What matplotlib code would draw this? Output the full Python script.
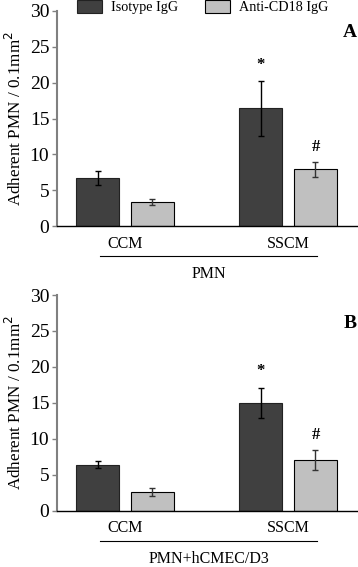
import matplotlib
matplotlib.use("Agg")
import matplotlib.pyplot as plt
import matplotlib.transforms as mtransforms
import numpy as np

plt.rcParams['font.family'] = ['Liberation Serif', 'DejaVu Serif']

categories = ["CCM", "SSCM"]
series_names = ["Isotype IgG", "Anti-CD18 IgG"]
# Panel A (PMN)
a_iso = [6.7, 16.4]
a_iso_err = [1.0, 3.8]
a_anti = [3.3, 7.9]
a_anti_err = [0.4, 1.1]
# Panel B (PMN+hCMEC/D3)
b_iso = [6.4, 15.0]
b_iso_err = [0.45, 2.1]
b_anti = [2.6, 7.1]
b_anti_err = [0.5, 1.4]
group_labels = ["PMN", "PMN+hCMEC/D3"]
panel_letters = ["A", "B"]
yticks = [0, 5, 10, 15, 20, 25, 30]

dark = "#404040"
light = "#c0c0c0"

fig = plt.figure(figsize=(3.58, 5.67), dpi=100)
axA = fig.add_axes([0.159, 0.6014, 0.84, 0.3792])
axB = fig.add_axes([0.159, 0.0993, 0.84, 0.3804])

x = np.arange(len(categories))
w = 0.264
off = 0.167

panels = [(axA, a_iso, a_iso_err, a_anti, a_anti_err, 0.898),
          (axB, b_iso, b_iso_err, b_anti, b_anti_err, 0.870)]

handles = None
for i, (ax, iso, iso_e, anti, anti_e, ly) in enumerate(panels):
    b1 = ax.bar(x - off, iso, w, color=dark, edgecolor="#222222", linewidth=0.8,
                yerr=iso_e, error_kw=dict(ecolor="black", elinewidth=1, capsize=2.5, capthick=1),
                label=series_names[0])
    b2 = ax.bar(x + off, anti, w, color=light, edgecolor="black", linewidth=0.8,
                yerr=anti_e, error_kw=dict(ecolor="#333333", elinewidth=1, capsize=2.5, capthick=1),
                label=series_names[1])
    if i == 0:
        handles = [b1, b2]
    ax.set_ylim(0, 30)
    ax.set_xlim(-0.4156, 1.425)
    ax.set_yticks(yticks)
    ax.set_xticks(x)
    ax.set_xticklabels(categories, fontsize=11.5)
    ax.tick_params(axis='x', length=0, pad=7)
    ax.tick_params(axis='y', length=3.5, width=1, color="#808080", labelsize=14, pad=2)
    for s in ["top", "right"]:
        ax.spines[s].set_visible(False)
    ax.spines["left"].set_color("#808080")
    ax.spines["left"].set_linewidth(1.5)
    ax.spines["bottom"].set_color("black")
    ax.spines["bottom"].set_linewidth(1)
    ax.set_ylabel("Adherent PMN / 0.1mm$^2$", fontsize=12.3, labelpad=3)
    # significance marks
    ax.text(x[1] - off, iso[1] + iso_e[1] + 1.2, "*", ha="center", va="bottom", fontsize=12, fontweight="bold")
    ax.text(x[1] + off, anti[1] + anti_e[1] + 0.9, "#", ha="center", va="bottom", fontsize=12, fontweight="bold")
    # panel letter
    ax.text(0.997, ly, panel_letters[i], transform=ax.transAxes, ha="right", va="center",
            fontsize=14, fontweight="bold")
    # bracket line and group label
    trans = mtransforms.blended_transform_factory(ax.transData, ax.transAxes)
    ax.plot([-0.152, 1.179], [-0.14, -0.14], color="black", lw=0.8, transform=trans, clip_on=False)
    ax.text((-0.152 + 1.179) / 2, -0.225, group_labels[i], transform=trans, ha="center", va="center",
            fontsize=11.5)

fig.legend(handles=handles, ncol=2, frameon=False, fontsize=10.2,
           loc="center left", bbox_to_anchor=(77 / 358, 1 - 7 / 567),
           bbox_transform=fig.transFigure,
           handlelength=1.77, handleheight=1.0, handletextpad=0.64, columnspacing=1.9,
           borderaxespad=0, borderpad=0)

fig.savefig("out.png", dpi=100)
